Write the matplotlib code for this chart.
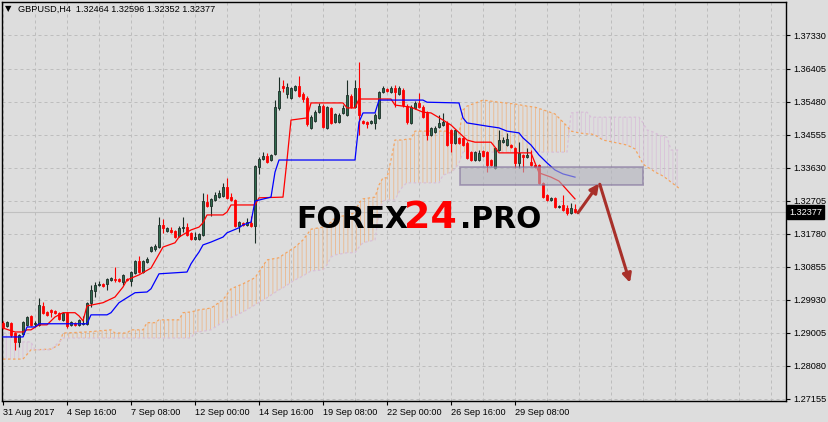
import matplotlib
matplotlib.use("Agg")
import matplotlib.pyplot as plt
import matplotlib.transforms as mtransforms
from matplotlib.patches import Rectangle
import numpy as np

# GBPUSD H4 candles, first bar = 31 Aug 2017 00:00
opens = [1.2928, 1.2919, 1.2928, 1.2900, 1.2874, 1.2897, 1.2922, 1.2947, 1.2925, 1.2922,
         1.2975, 1.2958, 1.2964, 1.2961, 1.2956, 1.2936, 1.2956, 1.2922, 1.2928, 1.2922,
         1.2925, 1.2925, 1.2984, 1.3017, 1.3034, 1.3037, 1.3037, 1.3048, 1.3051, 1.3051,
         1.3042, 1.3051, 1.3045, 1.3068, 1.3101, 1.3070, 1.3098, 1.3129, 1.3135, 1.3140,
         1.3202, 1.3185, 1.3188, 1.3185, 1.3171, 1.3194, 1.3196, 1.3180, 1.3163, 1.3163,
         1.3174, 1.3266, 1.3255, 1.3272, 1.3280, 1.3283, 1.3308, 1.3280, 1.3272, 1.3199,
         1.3208, 1.3202, 1.3208, 1.3199, 1.3364, 1.3387, 1.3395, 1.3384, 1.3401, 1.3530,
         1.3591, 1.3569, 1.3558, 1.3580, 1.3591, 1.3569, 1.3558, 1.3474, 1.3493, 1.3518,
         1.3535, 1.3474, 1.3530, 1.3490, 1.3490, 1.3516, 1.3510, 1.3563, 1.3532, 1.3586,
         1.3493, 1.3490, 1.3488, 1.3488, 1.3502, 1.3574, 1.3583, 1.3574, 1.3586, 1.3569,
         1.3580, 1.3535, 1.3488, 1.3530, 1.3544, 1.3532, 1.3516, 1.3454, 1.3462, 1.3476,
         1.3482, 1.3488, 1.3468, 1.3432, 1.3446, 1.3446, 1.3432, 1.3406, 1.3384, 1.3384,
         1.3409, 1.3406, 1.3384, 1.3362, 1.3412, 1.3434, 1.3426, 1.3426, 1.3418, 1.3376,
         1.3398, 1.3392, 1.3378, 1.3370, 1.3370, 1.3320, 1.3286, 1.3272, 1.3278, 1.3252,
         1.3258, 1.3250, 1.3236, 1.32464]
highs = [1.2933, 1.2933, 1.2930, 1.2902, 1.2897, 1.2933, 1.2947, 1.2950, 1.2933, 1.2998,
         1.2986, 1.2961, 1.2967, 1.2964, 1.2958, 1.2958, 1.2958, 1.2933, 1.2930, 1.2939,
         1.2947, 1.2986, 1.3034, 1.3042, 1.3045, 1.3040, 1.3054, 1.3056, 1.3084, 1.3054,
         1.3065, 1.3054, 1.3073, 1.3104, 1.3115, 1.3104, 1.3112, 1.3143, 1.3149, 1.3224,
         1.3219, 1.3196, 1.3196, 1.3188, 1.3199, 1.3224, 1.3208, 1.3182, 1.3182, 1.3180,
         1.3292, 1.3289, 1.3278, 1.3294, 1.3300, 1.3320, 1.3334, 1.3292, 1.3275, 1.3213,
         1.3210, 1.3222, 1.3227, 1.3370, 1.3392, 1.3406, 1.3403, 1.3401, 1.3552, 1.3616,
         1.3608, 1.3600, 1.3588, 1.3594, 1.3619, 1.3574, 1.3563, 1.3510, 1.3524, 1.3544,
         1.3541, 1.3535, 1.3532, 1.3516, 1.3516, 1.3538, 1.3608, 1.3569, 1.3608, 1.3658,
         1.3496, 1.3493, 1.3496, 1.3516, 1.3577, 1.3591, 1.3586, 1.3591, 1.3594, 1.3591,
         1.3586, 1.3541, 1.3538, 1.3549, 1.3572, 1.3538, 1.3521, 1.3476, 1.3479, 1.3510,
         1.3516, 1.3493, 1.3471, 1.3471, 1.3448, 1.3448, 1.3437, 1.3409, 1.3409, 1.3412,
         1.3412, 1.3409, 1.3387, 1.3420, 1.3468, 1.3448, 1.3460, 1.3429, 1.3420, 1.3434,
         1.3401, 1.3418, 1.3412, 1.3373, 1.3373, 1.3322, 1.3289, 1.3280, 1.3280, 1.3258,
         1.3286, 1.3258, 1.3264, 1.32596]
lows = [1.2911, 1.2916, 1.2888, 1.2852, 1.2860, 1.2891, 1.2919, 1.2919, 1.2919, 1.2919,
        1.2953, 1.2947, 1.2944, 1.2953, 1.2936, 1.2933, 1.2914, 1.2919, 1.2919, 1.2919,
        1.2922, 1.2922, 1.2972, 1.3000, 1.3031, 1.3028, 1.3020, 1.3045, 1.3042, 1.3042,
        1.3034, 1.3045, 1.3031, 1.3065, 1.3068, 1.3068, 1.3096, 1.3126, 1.3129, 1.3138,
        1.3180, 1.3182, 1.3180, 1.3166, 1.3168, 1.3182, 1.3171, 1.3160, 1.3160, 1.3160,
        1.3171, 1.3252, 1.3227, 1.3269, 1.3278, 1.3280, 1.3275, 1.3269, 1.3196, 1.3182,
        1.3199, 1.3199, 1.3196, 1.3152, 1.3345, 1.3384, 1.3376, 1.3381, 1.3398, 1.3524,
        1.3574, 1.3558, 1.3555, 1.3577, 1.3560, 1.3546, 1.3479, 1.3471, 1.3490, 1.3516,
        1.3474, 1.3471, 1.3485, 1.3488, 1.3488, 1.3513, 1.3507, 1.3530, 1.3530, 1.3454,
        1.3485, 1.3474, 1.3485, 1.3471, 1.3499, 1.3572, 1.3574, 1.3572, 1.3532, 1.3566,
        1.3532, 1.3485, 1.3485, 1.3527, 1.3530, 1.3502, 1.3440, 1.3451, 1.3460, 1.3474,
        1.3479, 1.3423, 1.3406, 1.3429, 1.3429, 1.3423, 1.3387, 1.3381, 1.3381, 1.3381,
        1.3392, 1.3350, 1.3367, 1.3359, 1.3409, 1.3432, 1.3423, 1.3418, 1.3362, 1.3362,
        1.3350, 1.3390, 1.3367, 1.3362, 1.3317, 1.3278, 1.3269, 1.3269, 1.3250, 1.3250,
        1.3241, 1.3230, 1.3233, 1.32352]
closes = [1.2916, 1.2930, 1.2894, 1.2874, 1.2894, 1.2930, 1.2944, 1.2922, 1.2928, 1.2978,
          1.2956, 1.2950, 1.2958, 1.2956, 1.2939, 1.2956, 1.2919, 1.2930, 1.2922, 1.2936,
          1.2928, 1.2984, 1.3020, 1.3034, 1.3037, 1.3031, 1.3051, 1.3054, 1.3048, 1.3045,
          1.3062, 1.3048, 1.3070, 1.3101, 1.3070, 1.3101, 1.3107, 1.3140, 1.3143, 1.3202,
          1.3194, 1.3194, 1.3182, 1.3168, 1.3194, 1.3196, 1.3174, 1.3163, 1.3168, 1.3177,
          1.3269, 1.3255, 1.3275, 1.3286, 1.3292, 1.3308, 1.3278, 1.3272, 1.3199, 1.3210,
          1.3202, 1.3210, 1.3199, 1.3367, 1.3387, 1.3395, 1.3378, 1.3398, 1.3532, 1.3577,
          1.3586, 1.3588, 1.3586, 1.3591, 1.3563, 1.3555, 1.3485, 1.3504, 1.3518, 1.3535,
          1.3476, 1.3532, 1.3488, 1.3513, 1.3510, 1.3530, 1.3566, 1.3532, 1.3586, 1.3510,
          1.3488, 1.3485, 1.3493, 1.3510, 1.3574, 1.3586, 1.3577, 1.3586, 1.3574, 1.3586,
          1.3538, 1.3490, 1.3532, 1.3544, 1.3532, 1.3504, 1.3454, 1.3474, 1.3474, 1.3488,
          1.3490, 1.3426, 1.3432, 1.3468, 1.3432, 1.3426, 1.3390, 1.3384, 1.3406, 1.3404,
          1.3395, 1.3370, 1.3370, 1.3418, 1.3440, 1.3440, 1.3443, 1.3420, 1.3376, 1.3404,
          1.3392, 1.3398, 1.3370, 1.3364, 1.3320, 1.3280, 1.3272, 1.3278, 1.3252, 1.3255,
          1.3244, 1.3236, 1.3250, 1.32377]

# Ichimoku: Tenkan-sen (red) and Kijun-sen (blue)
tenkan_bars = [0, 3, 5, 6, 7, 9, 11, 13, 15, 18, 19, 20, 21, 25, 28, 30, 31, 34, 37, 40,
               43, 44, 47, 49, 50, 51, 55, 56, 57, 63, 64, 70, 71, 72, 76, 77, 85, 86, 88, 89,
               97, 98, 102, 105, 107, 110, 112, 116, 118, 122, 123, 124, 132, 133, 134, 137,
               139, 141, 143]
tenkan = [1.2913, 1.2902, 1.2902, 1.2908, 1.2908, 1.2922, 1.2922, 1.2944, 1.2956, 1.2956,
          1.2947, 1.2933, 1.2975, 1.2984, 1.3000, 1.3028, 1.3048, 1.3062, 1.3081, 1.3140,
          1.3152, 1.3168, 1.3188, 1.3196, 1.3208, 1.3230, 1.3230, 1.3238, 1.3258, 1.3258,
          1.3278, 1.3280, 1.3384, 1.3496, 1.3502, 1.3544, 1.3544, 1.3530, 1.3530, 1.3555,
          1.3555, 1.3538, 1.3532, 1.3518, 1.3516, 1.3496, 1.3482, 1.3440, 1.3434, 1.3434,
          1.3420, 1.3404, 1.3404, 1.3376, 1.3348, 1.3336, 1.3325, 1.3300, 1.3275]
kijun_bars = [0, 5, 6, 8, 9, 21, 22, 26, 27, 28, 29, 31, 33, 36, 37, 39, 46, 47, 48, 49,
              50, 52, 55, 56, 59, 60, 62, 63, 67, 68, 69, 88, 89, 90, 93, 94, 105, 106, 114,
              115, 116, 121, 124, 126, 129, 130, 132, 134, 136, 138, 140, 143]
kijun = [1.2888, 1.2888, 1.2916, 1.2916, 1.2925, 1.2925, 1.2950, 1.2950, 1.2956, 1.2970,
         1.2984, 1.2998, 1.3012, 1.3014, 1.3023, 1.3065, 1.3070, 1.3093, 1.3110, 1.3126,
         1.3146, 1.3154, 1.3168, 1.3180, 1.3194, 1.3202, 1.3210, 1.3269, 1.3280, 1.3350,
         1.3384, 1.3384, 1.3490, 1.3516, 1.3516, 1.3552, 1.3552, 1.3546, 1.3544, 1.3502,
         1.3488, 1.3479, 1.3474, 1.3465, 1.3460, 1.3446, 1.3426, 1.3398, 1.3376, 1.3356,
         1.3345, 1.3336]

# Ichimoku cloud: Senkou Span A / B (projected 26 bars ahead)
cloud_bars = [0, 2, 3, 5, 7, 8, 12, 14, 15, 21, 27, 28, 31, 32, 35, 36, 38, 39, 44, 45,
              47, 48, 49, 52, 55, 57, 60, 63, 66, 69, 70, 73, 75, 77, 80, 81, 82, 83, 86, 88,
              89, 90, 93, 94, 95, 96, 97, 98, 99, 100, 101, 102, 103, 109, 110, 111, 112, 113,
              114, 115, 116, 120, 124, 128, 131, 133, 136, 138, 141, 142, 144, 146, 147, 148,
              150, 156, 158, 159, 160, 161, 162, 163, 164, 165, 166, 167, 169]
span_a = [1.2826, 1.2826, 1.2826, 1.2826, 1.2852, 1.2852, 1.2854, 1.2866, 1.2899, 1.2902,
          1.2908, 1.2899, 1.2899, 1.2908, 1.2908, 1.2928, 1.2928, 1.2936, 1.2936, 1.2956,
          1.2958, 1.2961, 1.2964, 1.2969, 1.2992, 1.3023, 1.3037, 1.3054, 1.3104, 1.3110,
          1.3118, 1.3140, 1.3160, 1.3190, 1.3196, 1.3199, 1.3210, 1.3222, 1.3230, 1.3236,
          1.3264, 1.3275, 1.3280, 1.3314, 1.3334, 1.3334, 1.3384, 1.3440, 1.3440, 1.3440,
          1.3443, 1.3443, 1.3465, 1.3465, 1.3465, 1.3465, 1.3457, 1.3457, 1.3457, 1.3524,
          1.3535, 1.3552, 1.3546, 1.3541, 1.3535, 1.3532, 1.3521, 1.3513, 1.3479, 1.3465,
          1.3460, 1.3457, 1.3457, 1.3454, 1.3440, 1.3426, 1.3415, 1.3395, 1.3373, 1.3364,
          1.3359, 1.3350, 1.3345, 1.3339, 1.3331, 1.3322, 1.3305]
span_b = [1.2899, 1.2899, 1.2874, 1.2874, 1.2874, 1.2852, 1.2852, 1.2874, 1.2885, 1.2885,
          1.2885, 1.2885, 1.2885, 1.2885, 1.2885, 1.2885, 1.2885, 1.2885, 1.2885, 1.2885,
          1.2885, 1.2902, 1.2902, 1.2908, 1.2930, 1.2942, 1.2958, 1.2978, 1.2998, 1.3020,
          1.3026, 1.3048, 1.3059, 1.3073, 1.3076, 1.3090, 1.3112, 1.3118, 1.3124, 1.3124,
          1.3140, 1.3152, 1.3160, 1.3236, 1.3269, 1.3272, 1.3272, 1.3272, 1.3294, 1.3311,
          1.3320, 1.3320, 1.3320, 1.3320, 1.3342, 1.3345, 1.3350, 1.3359, 1.3376, 1.3406,
          1.3406, 1.3406, 1.3406, 1.3406, 1.3406, 1.3406, 1.3406, 1.3406, 1.3406, 1.3516,
          1.3518, 1.3518, 1.3504, 1.3504, 1.3504, 1.3504, 1.3504, 1.3504, 1.3488, 1.3468,
          1.3465, 1.3460, 1.3454, 1.3451, 1.3448, 1.3412, 1.3412]

date_ticks = [0, 16, 32, 48, 64, 80, 96, 112, 128]
date_labels = ["31 Aug 2017", "4 Sep 16:00", "7 Sep 08:00", "12 Sep 00:00", "14 Sep 16:00",
               "19 Sep 08:00", "22 Sep 00:00", "26 Sep 16:00", "29 Sep 08:00"]
price_ticks = [1.27155, 1.28080, 1.29005, 1.29930, 1.30855, 1.31780, 1.32705,
               1.33630, 1.34555, 1.35480, 1.36405, 1.37330]
last_price = 1.32377

# resistance zone and forecast arrows (bar, price)
zone_bars = (114.25, 160.0)
zone_prices = (1.3314, 1.3364)
arrow_up = ((143.75, 1.3236), (149.0, 1.3318))
arrow_down = ((149.2, 1.3316), (156.75, 1.3040))

BG = "#dddddd"
GRID = "#bdbdbd"
BULL = "#2f6a4d"
BULL_EDGE = "#1b2d26"
BEAR = "#ff0000"
plt.rcParams["font.family"] = ["Liberation Sans", "DejaVu Sans"]
plt.rcParams["hatch.linewidth"] = 0.6

W, H = 829, 422
fig = plt.figure(figsize=(W / 100, H / 100), dpi=100, facecolor=BG)
ax = fig.add_axes([2 / W, 21 / H, 784 / W, 399 / H], facecolor=BG)

o = np.array(opens)
c = np.array(closes)
hi = np.array(highs)
lo = np.array(lows)
x = np.arange(len(o))
up = c >= o

# cloud hatching (MT4 draws it as dotted vertical lines)
a = np.array(span_a)
b = np.array(span_b)
ax.fill_between(cloud_bars, a, b, where=a >= b, interpolate=True, facecolor="none",
                edgecolor=(0.957, 0.643, 0.376, 0.65), hatch="||||", linewidth=0, zorder=1)
ax.fill_between(cloud_bars, a, b, where=a < b, interpolate=True, facecolor="none",
                edgecolor=(0.85, 0.72, 0.85, 0.75), hatch="||||", linewidth=0, zorder=1)
ax.plot(cloud_bars, span_a, color="#f4a460", lw=0.9, ls=(0, (2, 2)), zorder=2)
ax.plot(cloud_bars, span_b, color="#d8bfd8", lw=0.9, ls=(0, (2, 2)), zorder=2)

# candles
ax.vlines(x[up], lo[up], hi[up], color=BULL_EDGE, lw=0.8, zorder=3)
ax.vlines(x[~up], lo[~up], hi[~up], color=BEAR, lw=0.8, zorder=3)
ax.bar(x[up], c[up] - o[up], bottom=o[up], width=0.72, color=BULL,
       edgecolor=BULL_EDGE, lw=0.6, zorder=4)
ax.bar(x[~up], c[~up] - o[~up], bottom=o[~up], width=0.72, color=BEAR,
       edgecolor=BEAR, lw=0.6, zorder=4)

ax.plot(tenkan_bars, tenkan, color="#ff0000", lw=0.9, zorder=5)
ax.plot(kijun_bars, kijun, color="#0000ff", lw=0.9, zorder=5)

# bid line
ax.axhline(last_price, color="#c0c0c0", lw=0.8, zorder=0.5)

# zone box
ax.add_patch(Rectangle((zone_bars[0], zone_prices[0]), zone_bars[1] - zone_bars[0],
                       zone_prices[1] - zone_prices[0], facecolor="#b2b2bc", alpha=0.6,
                       edgecolor="#7d6a98", lw=1.2, zorder=6))
for (x0, y0), (x1, y1) in (arrow_up, arrow_down):
    ax.annotate("", xy=(x1, y1), xytext=(x0, y0),
                arrowprops=dict(arrowstyle="-|>", color="#a8302a", lw=2.2,
                                mutation_scale=13, shrinkA=0, shrinkB=0), zorder=7)

ax.set_xlim(-0.25, 195.75)
ax.set_ylim(1.27085, 1.38269)

ax.set_xticks(date_ticks)
ax.set_xticklabels(date_labels, fontsize=6.6, ha="left")
ax.set_xticks(np.arange(0, 196, 8), minor=True)
ax.yaxis.tick_right()
ax.set_yticks(price_ticks)
ax.set_yticklabels(["%.5f" % p for p in price_ticks], fontsize=6.6)
ax.tick_params(axis="x", which="major", length=3, width=0.8, pad=2, color="black")
ax.tick_params(axis="x", which="minor", length=0)
ax.tick_params(axis="y", length=3, width=0.8, pad=2, color="black")

ax.grid(True, which="both", axis="x", color=GRID, lw=0.72, ls=(0, (3, 3)), zorder=0)
ax.grid(True, which="major", axis="y", color=GRID, lw=0.72, ls=(0, (3, 3)), zorder=0)
ax.set_axisbelow(True)
for s in ax.spines.values():
    s.set_color("black")
    s.set_linewidth(1.0)

# last price tag
trans = mtransforms.blended_transform_factory(ax.transAxes, ax.transData)
ax.text(1.004, last_price, "1.32377", transform=trans, fontsize=6.6, color="white",
        ha="left", va="center", zorder=10, clip_on=False,
        bbox=dict(boxstyle="square,pad=0.25", fc="black", ec="black"))

# header
fig.text(5 / W, 1 - 11 / H, "\u25bc", fontsize=6, family="DejaVu Sans", va="baseline")
fig.text(18 / W, 1 - 12 / H, "GBPUSD,H4  1.32464 1.32596 1.32352 1.32377",
         fontsize=6.6, va="baseline")

# watermark
base = 1 - 227.5 / H
fig.text(296.5 / W, base, "FOREX", fontsize=21.4, weight="bold", family="DejaVu Sans",
         color="black", va="baseline", zorder=20)
fig.text(404 / W, base, "24", fontsize=27.3, weight="bold", family="DejaVu Sans",
         color="#ff0000", va="baseline", zorder=20)
fig.text(460 / W, base, ".PRO", fontsize=21.4, weight="bold", family="DejaVu Sans",
         color="black", va="baseline", zorder=20)

fig.savefig("out.png", dpi=100, facecolor=BG)
